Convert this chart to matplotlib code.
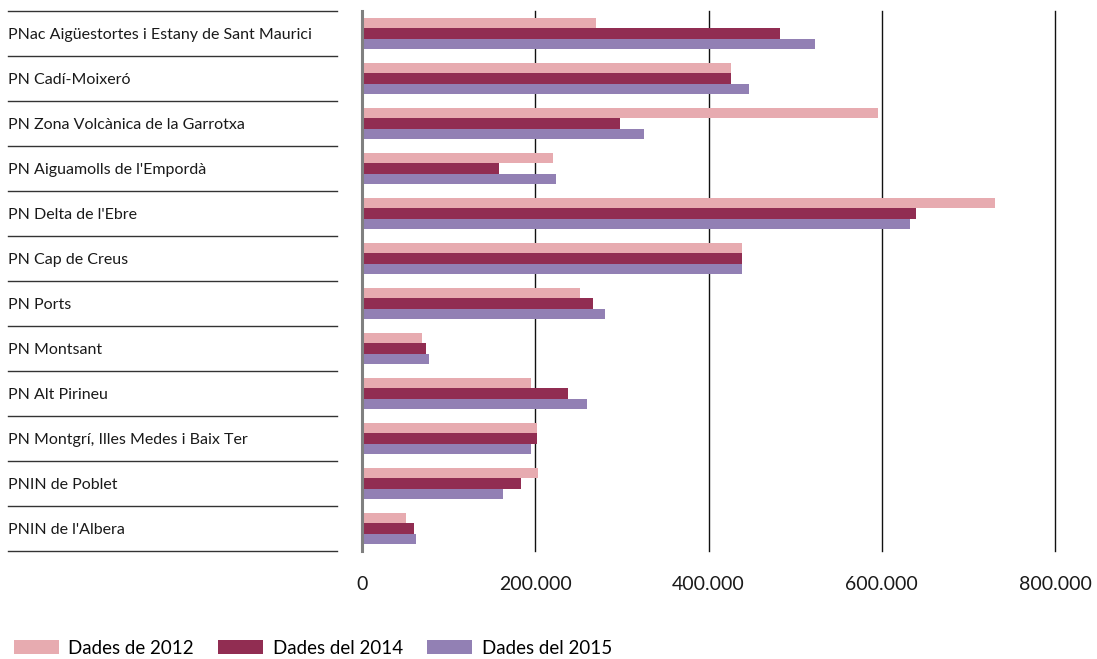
import matplotlib
matplotlib.use("Agg")
import matplotlib.pyplot as plt
import numpy as np
from matplotlib.transforms import blended_transform_factory
from matplotlib.patches import Patch

plt.rcParams['font.family'] = ['Lato', 'DejaVu Sans']

categories = [
    "PNac Aigüestortes i Estany de Sant Maurici",
    "PN Cadí-Moixeró",
    "PN Zona Volcànica de la Garrotxa",
    "PN Aiguamolls de l'Empordà",
    "PN Delta de l'Ebre",
    "PN Cap de Creus",
    "PN Ports",
    "PN Montsant",
    "PN Alt Pirineu",
    "PN Montgrí, Illes Medes i Baix Ter",
    "PNIN de Poblet",
    "PNIN de l'Albera",
]
dades_2012 = [270000, 426000, 596000, 221000, 731000, 439000, 252000, 69000, 195000, 202000, 203000, 51000]
dades_2014 = [483000, 426000, 298000, 158000, 639000, 439000, 267000, 74000, 238000, 202000, 183000, 60000]
dades_2015 = [523000, 447000, 326000, 224000, 633000, 439000, 281000, 77000, 260000, 195000, 163000, 62000]
series_labels = ["Dades de 2012", "Dades del 2014", "Dades del 2015"]
colors = ["#E7ABB0", "#912D52", "#9280B4"]
xticks = [0, 200000, 400000, 600000, 800000]
xtick_labels = ["0", "200.000", "400.000", "600.000", "800.000"]

W, H = 1097, 659
fig = plt.figure(figsize=(W / 100, H / 100), dpi=100)
ax = fig.add_axes([362 / W, 1 - 551 / H, (1055 - 362) / W, 540 / H])

y = np.arange(len(categories))
h = 0.225
for vals, off, c, lab in zip([dades_2012, dades_2014, dades_2015], [-h, 0, h], colors, series_labels):
    ax.barh(y + off, vals, height=h, color=c, label=lab, zorder=2)

ax.set_xlim(0, 800000)
ax.set_ylim(len(categories) - 0.5, -0.5)

for s in ax.spines.values():
    s.set_visible(False)

# vertical grid lines
for xv in xticks[1:]:
    ax.axvline(xv, color="#111111", lw=1.0, zorder=1, clip_on=False)
ax.axvline(0, color="#808080", lw=2.2, zorder=3, clip_on=False)

ax.set_xticks(xticks)
ax.set_xticklabels(xtick_labels, fontsize=14, color="#1a1a1a")
ax.tick_params(axis='x', length=0, pad=18)

ax.set_yticks(y)
ax.set_yticklabels(categories, ha='left', fontsize=11.5, color="#1a1a1a")
ax.tick_params(axis='y', length=0, pad=(362 - 8) * 0.72)

# row separators on the left
tr = blended_transform_factory(fig.transFigure, ax.transData)
for b in np.arange(-0.5, len(categories), 1.0):
    ax.plot([8 / W, 337 / W], [b, b], transform=tr, color="#333333", lw=1.0, clip_on=False)

handles = [Patch(facecolor=c, edgecolor='none') for c in colors]
fig.legend(handles, series_labels, loc='center left', bbox_to_anchor=(14 / W, 1 - 648 / H),
           ncol=3, frameon=False, fontsize=13.5, handlelength=2.4, handleheight=0.7,
           handletextpad=0.5, columnspacing=1.3, borderpad=0, borderaxespad=0)

fig.savefig("out.png", dpi=100)
